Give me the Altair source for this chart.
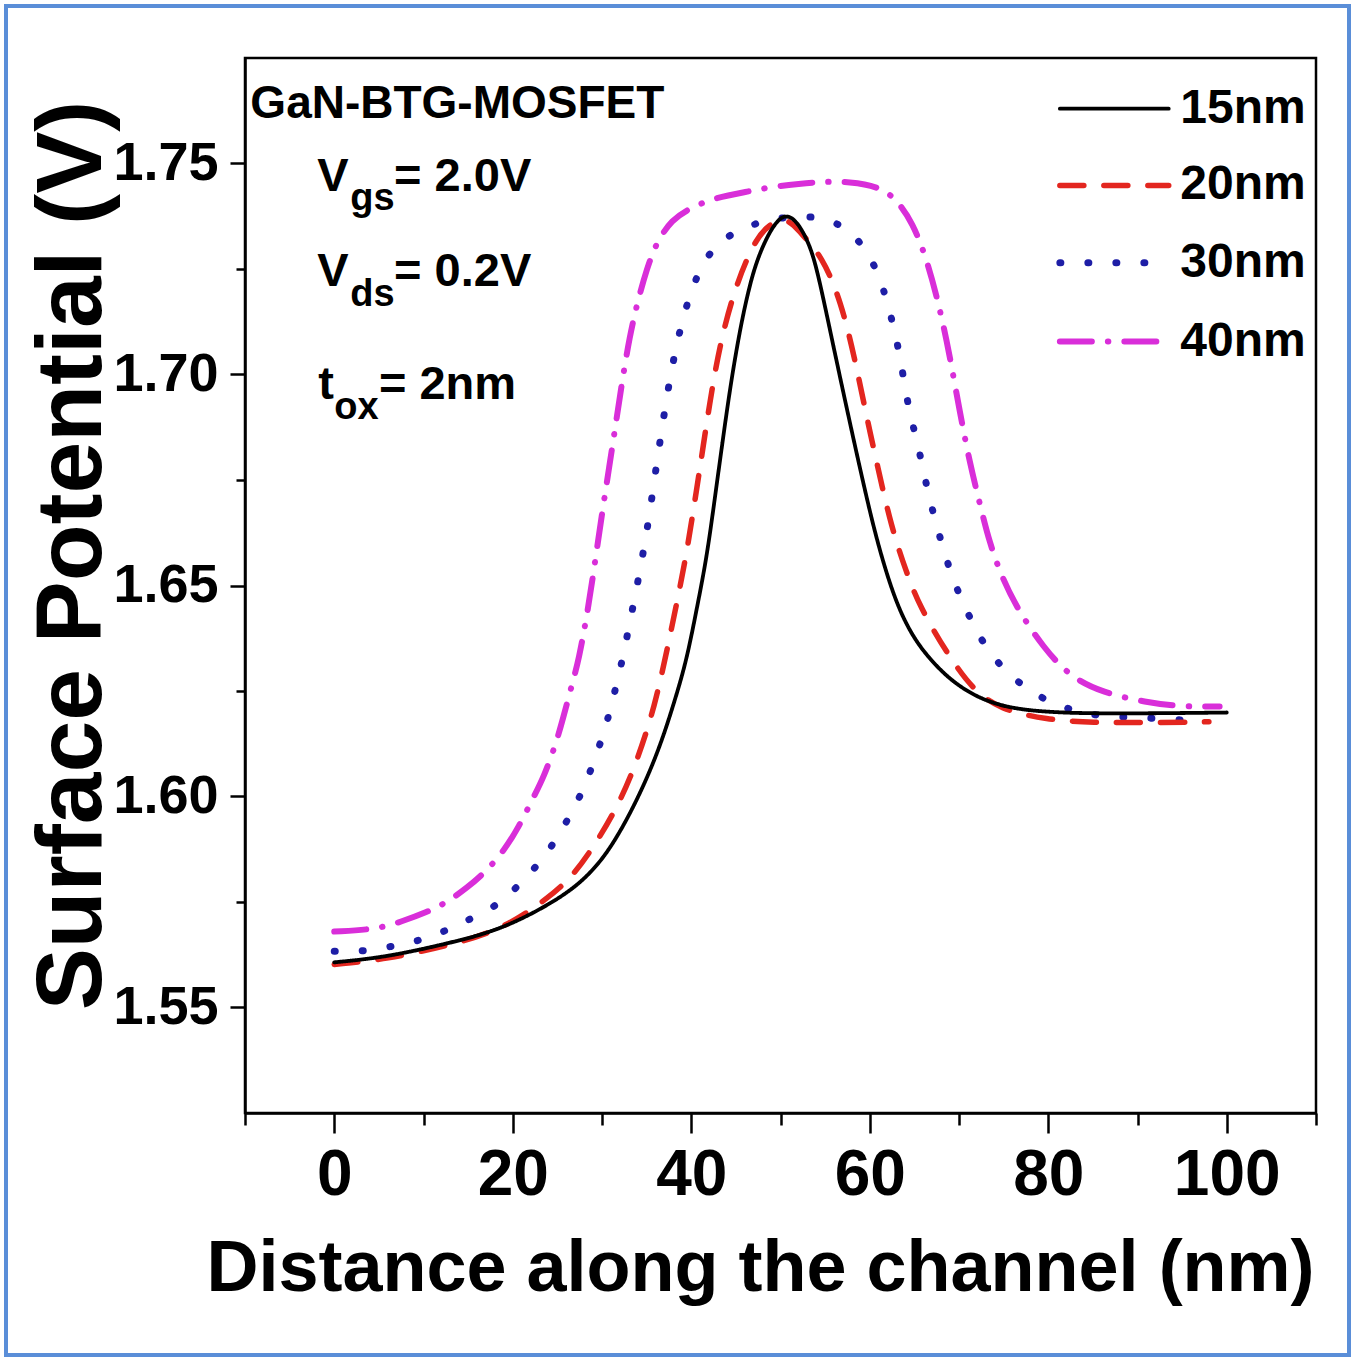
import altair as alt
import pandas as pd

# ---------------- data ----------------
series_names = ["15nm", "20nm", "30nm", "40nm"]

x_15 = [0, 5.8, 13.2, 18.8, 25.2, 28.5, 31.1, 34.0, 36.4, 38.2, 39.5, 40.6, 41.7, 42.6, 43.5, 44.4,
        45.4, 46.4, 47.4, 48.9, 50.3, 51.5, 52.5, 53.6, 54.6, 55.6, 57.2, 59.5, 61.0, 62.8, 64.5,
        66.4, 69.7, 74.2, 79.8, 87.2, 100]
y_15 = [1.5607, 1.5619, 1.5654, 1.5685, 1.5756, 1.5812, 1.5880, 1.5993, 1.6111, 1.6230, 1.6325,
        1.6443, 1.6562, 1.6700, 1.6840, 1.6975, 1.7100, 1.7200, 1.7275, 1.7345, 1.7380, 1.7370,
        1.7340, 1.7290, 1.7200, 1.7100, 1.6941, 1.6720, 1.6590, 1.6467, 1.6390, 1.6332, 1.6261,
        1.6213, 1.6199, 1.6196, 1.6199]

x_20 = [0, 5.8, 13.2, 18.8, 23.8, 26.7, 29.4, 32.0, 34.0, 35.9, 37.3, 38.7, 39.6, 40.6, 41.3, 42.3,
        43.4, 45.1, 47.3, 49.3, 51.0, 52.1, 54.7, 56.8, 58.3, 59.6, 60.9, 62.4, 64.1, 65.6, 68.6,
        71.5, 74.6, 79.8, 85.0, 91.0, 98.0]
y_20 = [1.5602, 1.5614, 1.5649, 1.5685, 1.5756, 1.5810, 1.5891, 1.5986, 1.6088, 1.6213, 1.6348,
        1.6491, 1.6592, 1.6727, 1.6825, 1.6964, 1.7090, 1.7218, 1.7327, 1.7365, 1.7367, 1.7339,
        1.7280, 1.7171, 1.7040, 1.6905, 1.6780, 1.6640, 1.6531, 1.6450, 1.6341, 1.6254, 1.6206,
        1.6182, 1.6175, 1.6175, 1.6177]

x_30 = [0, 3.6, 6.4, 9.2, 12.1, 14.3, 17.2, 19.4, 21.5, 23.5, 25.2, 26.8, 28.1, 29.4, 30.5, 31.3,
        32.2, 33.0, 33.8, 34.6, 35.3, 36.0, 36.7, 37.4, 38.1, 38.9, 40.0, 41.5, 43.2, 45.7, 48.8,
        51.8, 54.6, 57.2, 59.2, 60.8, 61.9, 62.8, 63.5, 64.1, 64.8, 65.6, 66.4, 67.3, 68.2, 69.3,
        70.9, 72.3, 74.2, 76.2, 79.4, 82.4, 85.4, 91.0, 97.3]
y_30 = [1.5633, 1.5633, 1.5645, 1.5656, 1.5678, 1.5701, 1.5728, 1.5763, 1.5808, 1.5855, 1.5910,
        1.5969, 1.6026, 1.6100, 1.6171, 1.6237, 1.6315, 1.6400, 1.6485, 1.6575, 1.6665, 1.6770,
        1.6870, 1.6965, 1.7045, 1.7120, 1.7201, 1.7273, 1.7315, 1.7348, 1.7367, 1.7376, 1.7372,
        1.7351, 1.7308, 1.7249, 1.7178, 1.7102, 1.7031, 1.6948, 1.6882, 1.6815, 1.6732, 1.6656,
        1.6590, 1.6514, 1.6438, 1.6377, 1.6320, 1.6277, 1.6230, 1.6206, 1.6190, 1.6187, 1.6178]

x_40 = [0, 4.7, 7.6, 10.3, 12.6, 14.9, 17.0, 19.1, 20.7, 22.2, 23.5, 24.8, 25.6, 26.7, 27.4, 28.3,
        29.1, 30.0, 30.8, 31.6, 32.3, 33.1, 33.9, 35.0, 36.2, 37.9, 39.5, 42.4, 46.2, 49.1, 52.1,
        54.7, 57.7, 61.1, 63.0, 64.8, 66.4, 67.8, 68.9, 70.1, 71.2, 72.3, 73.4, 74.9, 76.8, 79.4,
        82.4, 86.1, 91.0, 94.7, 99.2]
y_40 = [1.5680, 1.5685, 1.5704, 1.5725, 1.5749, 1.5784, 1.5822, 1.5874, 1.5929, 1.5993, 1.6047,
        1.6123, 1.6182, 1.6270, 1.6325, 1.6427, 1.6538, 1.6670, 1.6780, 1.6890, 1.6990, 1.7090,
        1.7165, 1.7250, 1.7318, 1.7367, 1.7390, 1.7418, 1.7433, 1.7445, 1.7452, 1.7457, 1.7457,
        1.7445, 1.7415, 1.7360, 1.7273, 1.7161, 1.7052, 1.6910, 1.6791, 1.6697, 1.6602, 1.6514,
        1.6436, 1.6355, 1.6284, 1.6246, 1.6223, 1.6213, 1.6213]

x_ticks = [-10, 0, 10, 20, 30, 40, 50, 60, 70, 80, 90, 100, 110]
y_ticks = [1.55, 1.575, 1.60, 1.625, 1.65, 1.675, 1.70, 1.725, 1.75]

annot_main = ["GaN-BTG-MOSFET", "V", "= 2.0V", "V", "= 0.2V", "t", "= 2nm"]
annot_sub = ["gs", "ds", "ox"]

# ---------------- layout constants (not data) ----------------
annot_main_x = [-9.4, -1.9, 6.7, -1.9, 6.7, -1.8, 5.0]
annot_main_y = [1.7609, 1.7436, 1.7436, 1.7209, 1.7209, 1.6943, 1.6943]
annot_main_size = [46, 47, 47, 47, 47, 47, 47]
annot_sub_x = [1.8, 1.8, 0.0]
annot_sub_y = [1.7390, 1.7163, 1.6895]
legend_row_y = [1.7630, 1.7448, 1.7265, 1.7078]
legend_x1, legend_x2, legend_tx = 81.3, 93.5, 94.8

# ---------------- tables ----------------
rows = []
all_x = {"15nm": x_15, "20nm": x_20, "30nm": x_30, "40nm": x_40}
all_y = {"15nm": y_15, "20nm": y_20, "30nm": y_30, "40nm": y_40}
for name in reversed(series_names):  # black drawn last (on top)
    for i, (a, b) in enumerate(zip(all_x[name], all_y[name])):
        rows.append({"series": name, "x": a, "y": b, "order": i})
df = pd.DataFrame(rows)

leg_df = pd.DataFrame({"series": series_names, "x": [legend_x1] * 4, "x2": [legend_x2] * 4,
                       "tx": [legend_tx] * 4, "y": legend_row_y})
main_df = pd.DataFrame({"t": annot_main, "x": annot_main_x, "y": annot_main_y, "s": annot_main_size})
sub_df = pd.DataFrame({"t": annot_sub, "x": annot_sub_x, "y": annot_sub_y})

FONT = "Liberation Sans, Arial, sans-serif"

colors = ["#000000", "#E3261F", "#1E1EA6", "#D92ED9"]
dashes = [[1, 0], [24, 20], [1, 27], [32, 16, 0.5, 16]]
widths = [3.8, 5.5, 7, 6]

xscale = alt.Scale(domain=[-10, 110], nice=False, zero=False)
yscale = alt.Scale(domain=[1.525, 1.775], nice=False, zero=False)

x_axis = alt.Axis(
    values=x_ticks,
    labelExpr="(datum.value >= 0 && datum.value <= 100 && datum.value % 20 == 0) ? datum.label : ''",
    tickSize={"condition": {"test": "datum.value % 20 == 0", "value": 20}, "value": 12},
    tickWidth=2.5, tickColor="black", domainColor="black", domainWidth=2.5,
    labelFont=FONT, labelFontWeight="bold", labelFontSize=64, labelColor="black",
    labelPadding=10, labelOverlap=False, labelFlush=False, grid=False,
    title="Distance along the channel (nm)", titleFont=FONT, titleFontWeight="bold",
    titleFontSize=72, titleColor="black", titleBaseline="alphabetic", titleAlign="center",
    titleX=515, titleY=177,
)
y_axis = alt.Axis(
    values=y_ticks,
    labelExpr="abs(datum.value*20 - round(datum.value*20)) < 0.01 ? format(datum.value, '.2f') : ''",
    tickSize={"condition": {"test": "abs(datum.value*20 - round(datum.value*20)) < 0.01", "value": 15}, "value": 9},
    tickWidth=2.5, tickColor="black", domainColor="black", domainWidth=2.5,
    labelFont=FONT, labelFontWeight="bold", labelFontSize=54, labelColor="black",
    labelPadding=12, labelOverlap=False, labelFlush=False, grid=False,
    title="Surface Potential (V)", titleFont=FONT, titleFontWeight="bold",
    titleFontSize=93, titleColor="black", titleBaseline="alphabetic", titleAlign="center",
    titleAngle=270, titleX=-145, titleY=497,
)

x_enc = alt.X("x:Q", scale=xscale, axis=x_axis)
y_enc = alt.Y("y:Q", scale=yscale, axis=y_axis)
color_enc = alt.Color("series:N", scale=alt.Scale(domain=series_names, range=colors), legend=None)
dash_enc = alt.StrokeDash("series:N", scale=alt.Scale(domain=series_names, range=dashes), legend=None)
size_enc = alt.Size("series:N", scale=alt.Scale(type="ordinal", domain=series_names, range=widths),
                    legend=None)

lines = alt.Chart(df).mark_line(interpolate="basis", strokeCap="round").encode(
    x=x_enc, y=y_enc, color=color_enc, strokeDash=dash_enc, size=size_enc,
    detail="series:N", order="order:Q",
)

leg_lines = alt.Chart(leg_df).mark_rule(strokeCap="round").encode(
    x=x_enc, x2="x2:Q", y=y_enc, color=color_enc, strokeDash=dash_enc, size=size_enc,
)
leg_text = alt.Chart(leg_df).mark_text(
    align="left", baseline="middle", font=FONT, fontWeight="bold", fontSize=48, color="black"
).encode(x=alt.X("tx:Q", scale=xscale, axis=x_axis), y=y_enc, text="series:N")

main_text = alt.Chart(main_df).mark_text(
    align="left", baseline="alphabetic", font=FONT, fontWeight="bold", color="black"
).encode(x=x_enc, y=y_enc, text="t:N",
         size=alt.Size("s:Q", scale=None, legend=None))
sub_text = alt.Chart(sub_df).mark_text(
    align="left", baseline="alphabetic", font=FONT, fontWeight="bold", fontSize=38, color="black"
).encode(x=x_enc, y=y_enc, text="t:N")

frame = alt.Chart(pd.DataFrame({"k": [0]})).mark_rect(
    filled=False, stroke="#5A8ED8", strokeWidth=4
).encode(x=alt.value(-239), x2=alt.value(1104), y=alt.value(-52), y2=alt.value(1297))

chart = alt.layer(lines, leg_lines, leg_text, main_text, sub_text, frame).resolve_scale(
    size="independent"
).properties(
    width=1071, height=1055,
    padding={"left": 245, "top": 58, "right": 37, "bottom": 246},
    autosize=alt.AutoSizeParams(type="none"),
    background="white",
).configure_view(stroke="black", strokeWidth=2.5)

chart.save("out.html", embed_options={"renderer": "svg", "actions": False})
